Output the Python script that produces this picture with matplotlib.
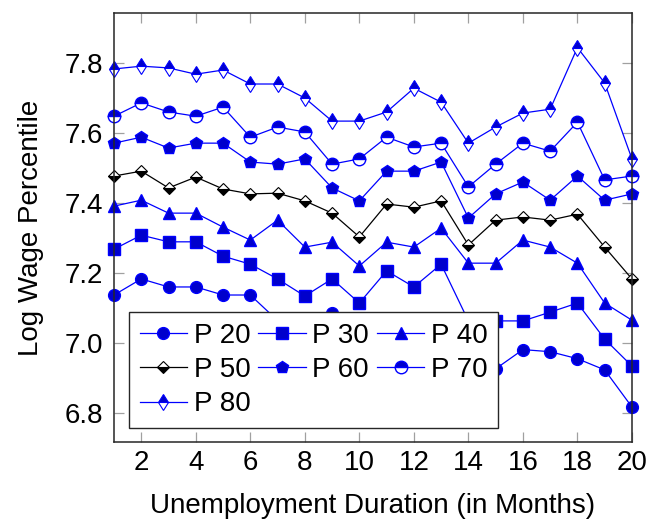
import numpy as np
import matplotlib.pyplot as plt

plt.rcParams['font.family'] = ['Liberation Sans', 'DejaVu Sans']

months = np.arange(1, 21)

p20 = [7.138, 7.184, 7.161, 7.161, 7.138, 7.138, 7.065, 7.060, 7.088, 6.990,
       7.040, 7.020, 7.050, 6.930, 6.927, 6.982, 6.976, 6.956, 6.924, 6.818]
p30 = [7.269, 7.309, 7.290, 7.290, 7.249, 7.226, 7.184, 7.135, 7.184, 7.115,
       7.207, 7.161, 7.226, 7.064, 7.064, 7.064, 7.089, 7.115, 7.012, 6.935]
p40 = [7.392, 7.409, 7.372, 7.372, 7.332, 7.295, 7.352, 7.275, 7.289, 7.221,
       7.289, 7.275, 7.329, 7.229, 7.229, 7.295, 7.275, 7.229, 7.115, 7.066]
p50 = [7.478, 7.492, 7.444, 7.475, 7.441, 7.427, 7.429, 7.407, 7.372, 7.304,
       7.398, 7.389, 7.407, 7.281, 7.352, 7.361, 7.352, 7.369, 7.275, 7.184]
p60 = [7.572, 7.589, 7.558, 7.572, 7.572, 7.518, 7.512, 7.527, 7.444, 7.407,
       7.492, 7.492, 7.518, 7.358, 7.427, 7.461, 7.409, 7.478, 7.409, 7.427]
p70 = [7.649, 7.687, 7.661, 7.649, 7.675, 7.589, 7.618, 7.604, 7.512, 7.527,
       7.589, 7.561, 7.572, 7.447, 7.512, 7.572, 7.549, 7.632, 7.467, 7.478]
p80 = [7.784, 7.792, 7.787, 7.769, 7.781, 7.741, 7.741, 7.701, 7.635, 7.635,
       7.661, 7.729, 7.689, 7.572, 7.618, 7.658, 7.669, 7.845, 7.744, 7.527]

BLUE = '#0000ff'
FILL = '#0000cc'

fig = plt.figure(figsize=(6.49, 5.19), dpi=100)
ax = fig.add_axes([0.1757, 0.1484, 0.798, 0.8266])

lw = 0.9
h20, = ax.plot(months, p20, color=BLUE, lw=lw, marker='o', ms=8.5,
               mfc=FILL, mec=BLUE, label='P 20', clip_on=False)
h30, = ax.plot(months, p30, color=BLUE, lw=lw, marker='s', ms=8,
               mfc=FILL, mec=BLUE, label='P 30', clip_on=False)
h40, = ax.plot(months, p40, color=BLUE, lw=lw, marker='^', ms=8,
               mfc=FILL, mec=BLUE, label='P 40', clip_on=False)
h50, = ax.plot(months, p50, color='black', lw=lw, marker='D', ms=6,
               fillstyle='bottom', mfc='black', mfcalt='white', mec='black',
               mew=0.8, label='P 50', clip_on=False)
h60, = ax.plot(months, p60, color=BLUE, lw=lw, marker='p', ms=9,
               mfc=FILL, mec=BLUE, label='P 60', clip_on=False)
h70, = ax.plot(months, p70, color=BLUE, lw=lw, marker='o', ms=9,
               fillstyle='top', mfc=FILL, mfcalt='white', mec=BLUE,
               mew=1.0, label='P 70', clip_on=False)
h80, = ax.plot(months, p80, color=BLUE, lw=lw, marker='d', ms=8,
               fillstyle='top', mfc=FILL, mfcalt='white', mec=BLUE,
               mew=0.8, label='P 80', clip_on=False)

ax.set_xlim(1, 20)
ax.set_ylim(6.718, 7.944)
ax.set_xticks([2, 4, 6, 8, 10, 12, 14, 16, 18, 20])
ax.set_yticks([6.8, 7.0, 7.2, 7.4, 7.6, 7.8])
ax.set_yticklabels(['6.8', '7.0', '7.2', '7.4', '7.6', '7.8'])

ax.tick_params(direction='in', length=7.5, width=0.9, color='#a0a0a0',
               top=True, right=True, labelsize=20)
ax.tick_params(axis='x', pad=6)
ax.tick_params(axis='y', pad=8)
for sp in ax.spines.values():
    sp.set_color('#262626')
    sp.set_linewidth(1.1)

ax.set_xlabel('Unemployment Duration (in Months)', fontsize=20, labelpad=12)
ax.set_ylabel('Log Wage Percentile', fontsize=20, labelpad=15)

# legend laid out row by row: three entries per row
order = [h20, h50, h80, h30, h60, h40, h70]
leg = ax.legend(handles=order, ncol=3, loc='lower left',
                bbox_to_anchor=(0.029, 0.033), borderaxespad=0,
                fontsize=20, handlelength=1.7, handletextpad=0.25,
                columnspacing=0.28, labelspacing=0.3, borderpad=0.38,
                fancybox=False, framealpha=1, edgecolor='#262626')
leg.get_frame().set_linewidth(1.0)
leg.set_zorder(5)

fig.savefig('out.png', dpi=100)
